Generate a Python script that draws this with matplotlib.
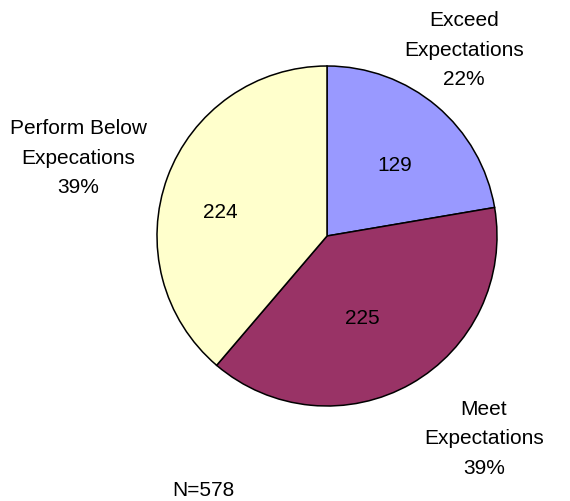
import matplotlib
matplotlib.use("Agg")
import matplotlib.pyplot as plt

categories = ["Exceed\nExpectations", "Meet\nExpectations", "Perform Below\nExpecations"]
counts = [129, 225, 224]
colors = ["#9999FF", "#993366", "#FFFFCC"]

plt.rcParams['font.family'] = ['Liberation Sans', 'DejaVu Sans']

W, H = 570, 501
fig = plt.figure(figsize=(W / 100, H / 100), dpi=100)
ax = fig.add_axes([0, 0, 1, 1])

cx, cy, r = 327, H - 236, 170
wedges, _ = ax.pie(counts, colors=colors, startangle=90, counterclock=False,
                   center=(cx, cy), radius=r, frame=True,
                   wedgeprops=dict(edgecolor="black", linewidth=1.1))
ax.set_xlim(0, W)
ax.set_ylim(0, H)
ax.set_aspect("equal")
ax.axis("off")

total = sum(counts)
fs = 15

# counts inside the slices
inner_pos = [(395, 165), (362, 318), (220, 212)]
for (x, y), n in zip(inner_pos, counts):
    ax.text(x, H - y, str(n), ha="center", va="center", fontsize=fs)

# category names with percentages outside the pie
outer_pos = [(464, 50), (484, 439), (78, 158)]
for (x, y), name, n in zip(outer_pos, categories, counts):
    ax.text(x, H - y, f"{name}\n{round(100 * n / total)}%", ha="center",
            va="center", fontsize=fs, linespacing=1.7)

ax.text(203, H - 490, f"N={total}", ha="center", va="center", fontsize=fs)

fig.savefig("out.png", dpi=100)
